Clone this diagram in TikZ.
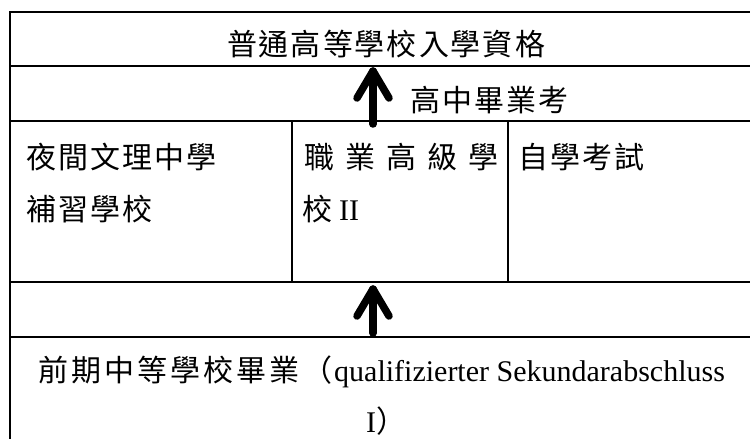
\documentclass[tikz,border=0pt]{standalone}
\usepackage{fontspec}
\setmainfont{Liberation Serif}
\newfontfamily\cjk{Noto Sans CJK TC}
\usetikzlibrary{calc}
\newlength\cjkp
\newcommand\spacedtext[2]{\setlength\cjkp{#1}\spacedloop#2\relax}
\def\spacedloop#1{\ifx\relax#1\else\makebox[\cjkp][c]{#1}\expandafter\spacedloop\fi}
\begin{document}
\begin{tikzpicture}[x=1pt,y=-1pt,
  rule/.style={line width=1.7pt, line cap=rect},
  lbl/.style={inner sep=0pt, anchor=base west, font=\fontsize{30}{36}\selectfont},
  bigarrow/.style={line width=7.5pt, line cap=round, line join=round}]
\useasboundingbox (0,0) rectangle (750,439);
% table rules
\draw[rule] (750,12) -- (10,12) -- (10,439);
\draw[rule] (10,66) -- (750,66);
\draw[rule] (10,121) -- (750,121);
\draw[rule] (10,282) -- (750,282);
\draw[rule] (10,337) -- (750,337);
\draw[rule] (292,121) -- (292,282);
\draw[rule] (508,121) -- (508,282);
% texts
\node[lbl, anchor=base] (title) at (386,55.5) {\cjk\spacedtext{32pt}{普通高等學校入學資格}};
\node[lbl] (exam) at (409,111.5) {\cjk\spacedtext{32pt}{高中畢業考}};
\node[lbl] (night1) at (25,168.5) {\cjk\spacedtext{32pt}{夜間文理中學}};
\node[lbl] (night2) at (25,220.5) {\cjk\spacedtext{32pt}{補習學校}};
\node[lbl] (voc1) at (299,168.5) {\cjk\spacedtext{41pt}{職業高級學}};
\node[lbl] (voc2) at (299,220.5) {{\cjk\spacedtext{36pt}{校}}\hspace{4pt}II};
\node[lbl] (self) at (517,168.5) {\cjk\spacedtext{32pt}{自學考試}};
\node[lbl] (lower1) at (37,381.5) {{\cjk\spacedtext{33pt}{前期中等學校畢業（}}qualifizierter Sekundarabschluss};
\node[lbl] (lower2) at (366,432) {I{\cjk）}};
% arrows
\coordinate (a1tip) at (373,71);
\coordinate (a1tail) at (373,124);
\coordinate (a2tip) at (373,289);
\coordinate (a2tail) at (373,333);
\draw[bigarrow] (a1tail) -- (a1tip);
\draw[bigarrow] ($(a1tip)+(-16,27)$) -- (a1tip) -- ($(a1tip)+(16,27)$);
\draw[bigarrow] (a2tail) -- (a2tip);
\draw[bigarrow] ($(a2tip)+(-16,27)$) -- (a2tip) -- ($(a2tip)+(16,27)$);
\end{tikzpicture}
\end{document}
